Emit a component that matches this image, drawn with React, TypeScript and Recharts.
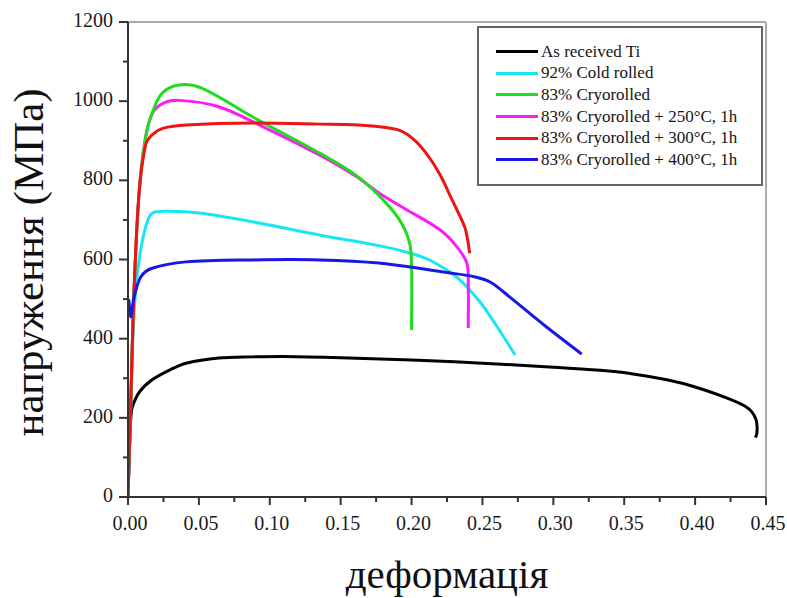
import * as React from 'react';
import { LineChart, Line, XAxis, YAxis, Legend, ReferenceLine } from 'recharts';

// strain (x) / stress in MPa (y), one pair of arrays per sample
const asReceivedStrain = [0, 0.001, 0.002, 0.003, 0.008, 0.017, 0.03, 0.041, 0.064, 0.088, 0.11, 0.15, 0.2, 0.25, 0.3, 0.333, 0.354, 0.38, 0.4, 0.4226, 0.435, 0.44, 0.443, 0.4437, 0.4435, 0.4425];
const asReceivedStress = [0, 120, 200, 227, 265, 296, 322, 338, 351, 354, 355, 352, 346, 338, 328, 320, 312, 296, 278, 250, 230, 215, 195, 177, 160, 150];

const coldRolledStrain = [0, 0.002, 0.0045, 0.0078, 0.0125, 0.017, 0.029, 0.052, 0.088, 0.135, 0.177, 0.2, 0.213, 0.232, 0.248, 0.26, 0.273];
const coldRolledStress = [0, 240, 480, 598, 683, 717, 722, 717, 695, 662, 635, 615, 598, 555, 494, 432, 359];

const cryoStrain = [0, 0.002, 0.0042, 0.0078, 0.012, 0.016, 0.024, 0.036, 0.052, 0.088, 0.135, 0.16, 0.1774, 0.1915, 0.1986, 0.2, 0.2];
const cryoStress = [0, 240, 515, 768, 900, 960, 1020, 1041, 1033, 960, 869, 815, 760, 700, 642, 581, 422];

const cryo250Strain = [0, 0.002, 0.0042, 0.0078, 0.012, 0.017, 0.025, 0.036, 0.064, 0.1, 0.135, 0.16, 0.177, 0.195, 0.22, 0.232, 0.239, 0.24, 0.24];
const cryo250Stress = [0, 240, 515, 768, 900, 968, 995, 1002, 986, 927, 864, 812, 768, 729, 675, 632, 591, 540, 427];

const cryo300Strain = [0, 0.002, 0.0042, 0.0078, 0.0125, 0.017, 0.025, 0.041, 0.088, 0.135, 0.17, 0.19, 0.2, 0.21, 0.22, 0.228, 0.2375, 0.2396, 0.241];
const cryo300Stress = [0, 250, 515, 768, 890, 915, 932, 940, 945, 942, 938, 928, 908, 870, 815, 755, 682, 649, 616];

const cryo400Strain = [0.0005, 0.002, 0.004, 0.009, 0.017, 0.041, 0.088, 0.135, 0.177, 0.225, 0.245, 0.256, 0.27, 0.295, 0.32];
const cryo400Stress = [500, 455, 500, 556, 578, 594, 599, 599, 591, 567, 556, 542, 503, 430, 361];

const xTicks = [0, 0.025, 0.05, 0.075, 0.1, 0.125, 0.15, 0.175, 0.2, 0.225, 0.25, 0.275, 0.3, 0.325, 0.35, 0.375, 0.4, 0.425, 0.45];
const yTicks = [0, 100, 200, 300, 400, 500, 600, 700, 800, 900, 1000, 1100, 1200];

const pairs = (xs: number[], ys: number[]) => xs.map((x, i) => ({ x, y: ys[i] }));

// legend order
const series = [
  { name: 'As received Ti', color: '#000000', data: pairs(asReceivedStrain, asReceivedStress) },
  { name: '92% Cold rolled', color: '#19e6f2', data: pairs(coldRolledStrain, coldRolledStress) },
  { name: '83% Cryorolled', color: '#1fdc1f', data: pairs(cryoStrain, cryoStress) },
  { name: '83% Cryorolled + 250°C, 1h', color: '#fb1cf6', data: pairs(cryo250Strain, cryo250Stress) },
  { name: '83% Cryorolled + 300°C, 1h', color: '#ee1414', data: pairs(cryo300Strain, cryo300Stress) },
  { name: '83% Cryorolled + 400°C, 1h', color: '#1717e6', data: pairs(cryo400Strain, cryo400Stress) },
];
// paint order: black underneath, blue on top
const drawOrder = [0, 1, 3, 2, 4, 5];

const serif = '"Liberation Serif", "Times New Roman", serif';
const axisColor = '#333';

// chord-weighted Catmull-Rom: smooth through every point, copes with curves that
// turn back in x (end of the black curve) and vertical drops
const smoothCurve: any = (ctx: any) => {
  let pts: number[][] = [];
  const dist = (a: number[], b: number[]) => Math.hypot(b[0] - a[0], b[1] - a[1]) || 1e-6;
  return {
    areaStart() {},
    areaEnd() {},
    lineStart() {
      pts = [];
    },
    point(x: number, y: number) {
      pts.push([+x, +y]);
    },
    lineEnd() {
      if (!pts.length) return;
      ctx.moveTo(pts[0][0], pts[0][1]);
      for (let i = 0; i < pts.length - 1; i++) {
        const p0 = pts[i - 1] || pts[i];
        const p1 = pts[i];
        const p2 = pts[i + 1];
        const p3 = pts[i + 2] || p2;
        const d01 = i > 0 ? dist(p0, p1) : 0;
        const d12 = dist(p1, p2);
        const d23 = i + 2 < pts.length ? dist(p2, p3) : 0;
        const k1 = d12 / (3 * (d01 + d12));
        const k2 = d12 / (3 * (d12 + d23));
        ctx.bezierCurveTo(
          p1[0] + (p2[0] - p0[0]) * k1,
          p1[1] + (p2[1] - p0[1]) * k1,
          p2[0] - (p3[0] - p1[0]) * k2,
          p2[1] - (p3[1] - p1[1]) * k2,
          p2[0],
          p2[1],
        );
      }
    },
  };
};

const XTick = (props: any) => {
  const { x, y, payload } = props;
  const v = payload.value as number;
  const major = Math.round(v * 1000) % 50 === 0;
  return (
    <g>
      <line x1={x} x2={x} y1={y} y2={y + (major ? 8 : 5)} stroke={axisColor} strokeWidth={2} />
      {major && (
        <text x={x + 2} y={y + 33} textAnchor="middle" fontFamily={serif} fontSize={20} fill="#1a1a1a">
          {v.toFixed(2)}
        </text>
      )}
    </g>
  );
};

const YTick = (props: any) => {
  const { x, y, payload } = props;
  const v = payload.value as number;
  const major = v % 200 === 0;
  return (
    <g>
      <line x1={x - (major ? 9 : 5)} x2={x} y1={y} y2={y} stroke={axisColor} strokeWidth={2} />
      {major && (
        <text x={x - 15} y={y + 5} textAnchor="end" fontFamily={serif} fontSize={20} fill="#1a1a1a">
          {v}
        </text>
      )}
    </g>
  );
};

const LegendBox = () => (
  <div
    style={{
      boxSizing: 'border-box',
      width: 286,
      height: 160,
      border: '2px solid #666',
      background: '#fff',
      paddingTop: 13,
      fontFamily: serif,
      fontSize: 17,
      color: '#151515',
    }}
  >
    {series.map((s) => (
      <div key={s.name} style={{ display: 'flex', alignItems: 'center', height: 21.6 }}>
        <span style={{ display: 'inline-block', marginLeft: 17, width: 42, height: 3, background: s.color }} />
        <span style={{ marginLeft: 3, whiteSpace: 'nowrap' }}>{s.name}</span>
      </div>
    ))}
  </div>
);

export default function App() {
  return (
    <div style={{ position: 'absolute', left: 0, top: 0, width: 787, height: 598, background: '#fff' }}>
      <LineChart width={787} height={598} margin={{ top: 22, right: 21, bottom: 0, left: 0 }}>
        <XAxis
          dataKey="x"
          type="number"
          domain={[0, 0.45]}
          ticks={xTicks}
          interval={0}
          height={101}
          tickSize={0}
          tickMargin={0}
          tickLine={false}
          tick={<XTick />}
          axisLine={{ stroke: axisColor, strokeWidth: 2 }}
          allowDataOverflow
          label={{
            content: (p: any) => (
              <text
                x={p.viewBox.x + p.viewBox.width / 2}
                y={p.viewBox.y + 91}
                textAnchor="middle"
                fontFamily={serif}
                fontSize={41}
                fill="#111"
              >
                деформація
              </text>
            ),
          }}
        />
        <YAxis
          type="number"
          domain={[0, 1200]}
          ticks={yTicks}
          interval={0}
          width={128}
          tickSize={0}
          tickMargin={0}
          tickLine={false}
          tick={<YTick />}
          axisLine={{ stroke: axisColor, strokeWidth: 2 }}
          allowDataOverflow
          label={{
            content: (p: any) => {
              const cx = p.viewBox.x + 43;
              const cy = p.viewBox.y + p.viewBox.height / 2 + 3;
              return (
                <text
                  x={cx}
                  y={cy}
                  transform={`rotate(-90, ${cx}, ${cy})`}
                  textAnchor="middle"
                  fontFamily={serif}
                  fontSize={43}
                  fill="#111"
                >
                  напруження (МПа)
                </text>
              );
            },
          }}
        />
        <ReferenceLine y={1200} stroke="#aaa" strokeWidth={2} />
        <ReferenceLine x={0.45} stroke="#aaa" strokeWidth={2} />
        {drawOrder.map((i) => (
          <Line
            key={series[i].name}
            name={series[i].name}
            data={series[i].data}
            dataKey="y"
            type={smoothCurve}
            stroke={series[i].color}
            strokeWidth={3}
            strokeLinejoin="round"
            dot={false}
            activeDot={false}
            isAnimationActive={false}
          />
        ))}
        <Legend
          layout="vertical"
          align="center"
          verticalAlign="middle"
          content={<LegendBox />}
          wrapperStyle={{ left: 477, top: 26, width: 286, height: 160 }}
        />
      </LineChart>
    </div>
  );
}
